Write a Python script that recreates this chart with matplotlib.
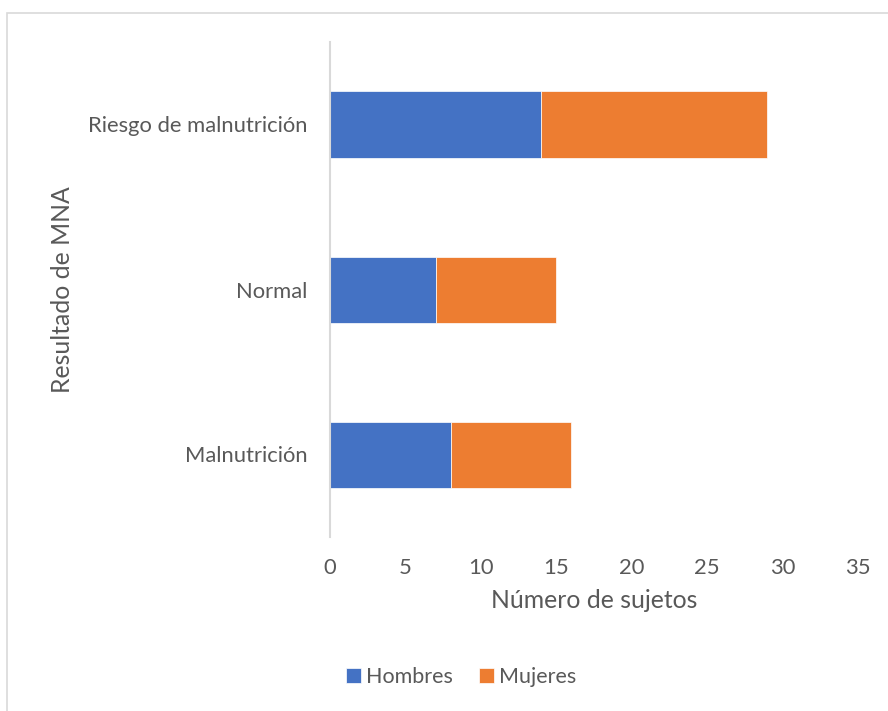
import numpy as np
import matplotlib
matplotlib.use('Agg')
import matplotlib.pyplot as plt
from matplotlib.patches import Rectangle

# MNA result categories, bottom to top
categorias = ['Malnutrición', 'Normal', 'Riesgo de malnutrición']
hombres = [8, 7, 14]
mujeres = [8, 8, 15]

azul = '#4472c4'
naranja = '#ed7d31'
gris = '#595959'

plt.rcParams['font.family'] = ['Lato', 'DejaVu Sans']

fig = plt.figure(figsize=(8.88, 7.11), dpi=100)
ax = fig.add_axes([330/888, 1-537/711, 528/888, 495/711])

y = np.arange(len(categorias))
ax.barh(y, hombres, height=0.4, color=azul, edgecolor='white', linewidth=0.5, label='Hombres')
ax.barh(y, mujeres, left=hombres, height=0.4, color=naranja, edgecolor='white', linewidth=0.5, label='Mujeres')

ax.set_xlim(0, 35)
ax.set_ylim(-0.5, 2.5)
ax.set_xticks(range(0, 36, 5))
ax.set_yticks(y)
ax.set_yticklabels(categorias)
ax.tick_params(length=0, labelsize=15.8, colors=gris)
ax.tick_params(axis='x', pad=15)
ax.tick_params(axis='y', pad=16)

for s in ['top', 'right', 'bottom']:
    ax.spines[s].set_visible(False)
ax.spines['left'].set_color('#d9d9d9')
ax.spines['left'].set_linewidth(1.5)

ax.set_xlabel('Número de sujetos', fontsize=17.8, color=gris, labelpad=8)
ax.set_ylabel('Resultado de MNA', fontsize=17.8, color=gris, labelpad=10)

fig.legend(loc='center', bbox_to_anchor=(461/888, 1-677/711), ncol=2, frameon=False,
           fontsize=15.5, labelcolor=gris, handlelength=0.7, handleheight=0.7,
           handletextpad=0.25, columnspacing=1.2)

# outer frame of the chart area
fig.patches.append(Rectangle((7/888, -0.05), 1.0, 1-13/711+0.05, transform=fig.transFigure,
                             fill=False, edgecolor='#d9d9d9', linewidth=1.2))

fig.savefig('out.png', dpi=100, facecolor='white')
